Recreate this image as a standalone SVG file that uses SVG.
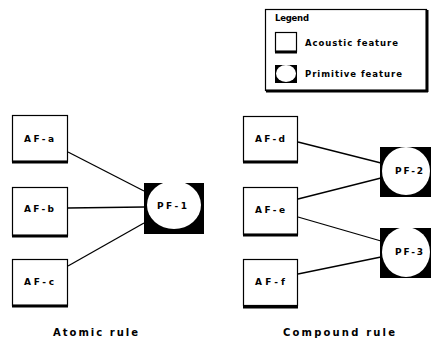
<svg xmlns="http://www.w3.org/2000/svg" width="431" height="343" viewBox="0 0 431 343">
<style>
.box{fill:#fff;stroke:#000;stroke-width:1.2}
.shadow{stroke:#000;stroke-width:3}
.pfbg{fill:#000}
.pfel{fill:#fff}
.lbl{font-family:"DejaVu Sans","Liberation Sans",Arial,sans-serif;font-weight:bold;font-size:9px;fill:#000}
.cap{font-family:"DejaVu Sans","Liberation Sans",Arial,sans-serif;font-weight:bold;font-size:10px;fill:#000}
.leg{font-family:"DejaVu Sans","Liberation Sans",Arial,sans-serif;font-weight:bold;font-size:8.5px;fill:#000}
.edge{stroke:#000;stroke-width:1.3;fill:none}
</style>
<rect width="431" height="343" fill="#fff"/>

<g id="legend">
  <rect x="265.5" y="9.5" width="161" height="81" class="box"/>
  <line x1="266" y1="91" x2="428" y2="91" class="shadow"/>
  <line x1="427" y1="10" x2="427" y2="92" class="shadow"/>
  <text x="275" y="20.5" class="leg" font-size="7" textLength="34" lengthAdjust="spacing">Legend</text>
  <rect x="275.5" y="32.5" width="21" height="19" class="box"/>
  <line x1="275" y1="52" x2="297" y2="52" class="shadow" stroke-width="2"/>
  <text x="305" y="46" class="leg" textLength="93" lengthAdjust="spacing">Acoustic feature</text>
  <rect x="275" y="65" width="22" height="18" class="pfbg"/>
  <ellipse cx="286" cy="73.5" rx="10" ry="8.5" class="pfel"/>
  <text x="305" y="77" class="leg" textLength="97" lengthAdjust="spacing">Primitive feature</text>
</g>

<g id="connectors">
  <line x1="68" y1="152" x2="144" y2="191" class="edge"/>
  <line x1="68" y1="208" x2="144" y2="207" class="edge"/>
  <line x1="68" y1="266" x2="144" y2="223" class="edge"/>
  <line x1="298" y1="142" x2="381" y2="163" class="edge"/>
  <line x1="298" y1="199" x2="381" y2="178" class="edge"/>
  <line x1="298" y1="217" x2="381" y2="241" class="edge"/>
  <line x1="298" y1="274" x2="381" y2="257" class="edge"/>
</g>

<g id="AF-a">
  <rect x="12.5" y="115.5" width="55" height="46" class="box"/>
  <line x1="12" y1="162" x2="68" y2="162" class="shadow"/>
  <text x="24" y="142" class="lbl" textLength="30" lengthAdjust="spacing">AF-a</text>
</g>
<g id="AF-b">
  <rect x="12.5" y="187.5" width="55" height="48" class="box"/>
  <line x1="12" y1="236" x2="68" y2="236" class="shadow"/>
  <text x="24" y="212" class="lbl" textLength="30" lengthAdjust="spacing">AF-b</text>
</g>
<g id="AF-c">
  <rect x="12.5" y="259.5" width="55" height="46" class="box"/>
  <line x1="12" y1="306" x2="68" y2="306" class="shadow"/>
  <text x="24" y="285" class="lbl" textLength="30" lengthAdjust="spacing">AF-c</text>
</g>
<g id="PF-1">
  <rect x="144" y="183" width="60" height="51" class="pfbg"/>
  <ellipse cx="174" cy="205" rx="27" ry="24" class="pfel"/>
  <text x="157" y="208.5" class="lbl" textLength="30" lengthAdjust="spacing">PF-1</text>
</g>

<g id="AF-d">
  <rect x="243.5" y="116.5" width="54" height="45" class="box"/>
  <line x1="243" y1="162" x2="298" y2="162" class="shadow"/>
  <text x="255" y="142" class="lbl" textLength="30" lengthAdjust="spacing">AF-d</text>
</g>
<g id="AF-e">
  <rect x="243.5" y="187.5" width="54" height="47" class="box"/>
  <line x1="243" y1="235" x2="298" y2="235" class="shadow"/>
  <text x="255" y="213" class="lbl" textLength="30" lengthAdjust="spacing">AF-e</text>
</g>
<g id="AF-f">
  <rect x="243.5" y="259.5" width="54" height="46" class="box"/>
  <line x1="243" y1="307" x2="298" y2="307" class="shadow"/>
  <text x="255" y="285" class="lbl" textLength="30" lengthAdjust="spacing">AF-f</text>
</g>
<g id="PF-2">
  <rect x="380" y="147" width="51" height="50" class="pfbg"/>
  <ellipse cx="406" cy="171" rx="24" ry="24" class="pfel"/>
  <text x="395" y="174" class="lbl" textLength="28" lengthAdjust="spacing">PF-2</text>
</g>
<g id="PF-3">
  <rect x="380" y="228" width="51" height="50" class="pfbg"/>
  <ellipse cx="406" cy="252" rx="24" ry="25" class="pfel"/>
  <text x="395" y="255" class="lbl" textLength="28" lengthAdjust="spacing">PF-3</text>
</g>

<text x="53" y="336" class="cap" textLength="85" lengthAdjust="spacing">Atomic rule</text>
<text x="283" y="336" class="cap" textLength="112" lengthAdjust="spacing">Compound rule</text>
</svg>
